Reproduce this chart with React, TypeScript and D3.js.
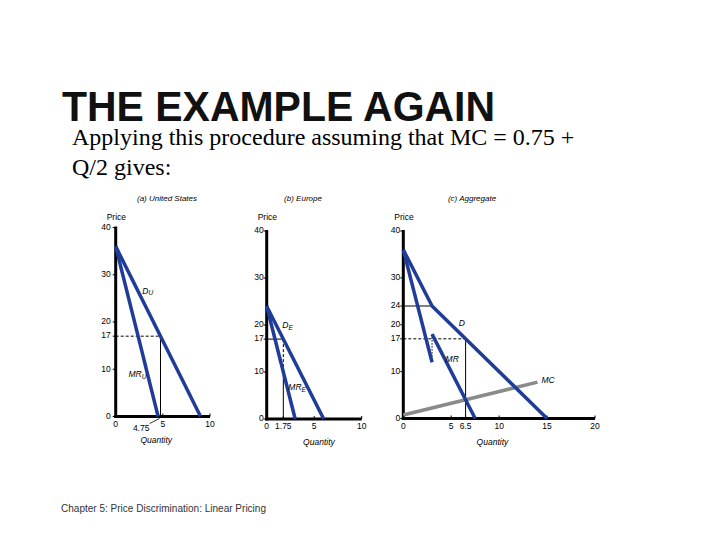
import React from "react";
import * as d3 from "d3";

type Pt = { q: number; p: number };

// ---- data ----
const usDemand: Pt[] = [{ q: 0, p: 36 }, { q: 9, p: 0 }];
const usMR: Pt[] = [{ q: 0, p: 36 }, { q: 4.5, p: 0 }];
const euDemand: Pt[] = [{ q: 0, p: 24 }, { q: 6, p: 0 }];
const euMR: Pt[] = [{ q: 0, p: 24 }, { q: 3, p: 0 }];
const aggDemand: Pt[] = [{ q: 0, p: 36 }, { q: 3, p: 24 }, { q: 15, p: 0 }];
const aggMR1: Pt[] = [{ q: 0, p: 36 }, { q: 3, p: 12 }];
const aggMR2: Pt[] = [{ q: 3, p: 18 }, { q: 7.5, p: 0 }];
const mcLine: Pt[] = [{ q: 0, p: 0.75 }, { q: 14, p: 7.75 }];

const price = 17;
const qUS = 4.75;
const qEU = 1.75;
const mrEUatQ = 10;
const qAgg = 6.5;
const kinkQ = 3;
const kinkP = 24;
const mrGapLow = 12;
const mrGapHigh = 18;

const yTicksUSEU = [0, 10, 17, 20, 30, 40];
const yTicksAgg = [0, 10, 17, 20, 24, 30, 40];
const xTicksUS = [0, 5, 10];
const xLabelsUS = ["0", "5", "10"];
const xTicksEU = [0, 1.75, 5, 10];
const xLabelsEU = ["0", "1.75", "5", "10"];
const xTicksAgg = [0, 5, 6.5, 10, 15, 20];
const xLabelsAgg = ["0", "5", "6.5", "10", "15", "20"];

const BLUE = "#1f3c98";
const GRAY = "#8a8a8a";
const SANS = "'Liberation Sans', Arial, sans-serif";
const SERIF = "'Liberation Serif', 'Times New Roman', serif";

type Scales = {
  x: d3.ScaleLinear<number, number>;
  y: d3.ScaleLinear<number, number>;
};

const sA: Scales = {
  x: d3.scaleLinear().domain([0, 10]).range([115.7, 210]),
  y: d3.scaleLinear().domain([0, 40]).range([416.5, 227.5]),
};
const sB: Scales = {
  x: d3.scaleLinear().domain([0, 10]).range([266.7, 361.7]),
  y: d3.scaleLinear().domain([0, 40]).range([419, 231]),
};
const sC: Scales = {
  x: d3.scaleLinear().domain([0, 20]).range([403.3, 595]),
  y: d3.scaleLinear().domain([0, 40]).range([418.5, 231]),
};

function lineGen(s: Scales) {
  return d3
    .line<Pt>()
    .x((d) => s.x(d.q))
    .y((d) => s.y(d.p));
}

function Axes({
  s,
  yTicks,
  xTicks,
  xLabels,
  yLabelOffset,
  xMax,
  quantityQ,
}: {
  s: Scales;
  yTicks: number[];
  xTicks: number[];
  xLabels: string[];
  yLabelOffset: number;
  xMax: number;
  quantityQ: number;
}) {
  const x0 = s.x(0);
  const y0 = s.y(0);
  return (
    <g fontFamily={SANS} fontSize={8.5} fill="#000">
      <line x1={x0} x2={x0} y1={s.y(40) - 1} y2={y0 + 1.5} stroke="#000" strokeWidth={3} />
      <line x1={x0 - 1.5} x2={s.x(xMax)} y1={y0} y2={y0} stroke="#000" strokeWidth={3} />
      {yTicks.map((t) => (
        <g key={"y" + t}>
          <line x1={x0 - 3} x2={x0} y1={s.y(t)} y2={s.y(t)} stroke="#000" strokeWidth={1} />
          <text x={x0 - yLabelOffset} y={s.y(t)} textAnchor="end" dominantBaseline="middle">
            {t}
          </text>
        </g>
      ))}
      {xTicks.map((t, i) => (
        <g key={"x" + t}>
          <line x1={s.x(t)} x2={s.x(t)} y1={y0 - 3} y2={y0} stroke="#000" strokeWidth={1} />
          <text x={s.x(t)} y={y0 + 10} textAnchor="middle">
            {xLabels[i]}
          </text>
        </g>
      ))}
      <text x={x0 - 9} y={220} textAnchor="start">
        Price
      </text>
      <text x={s.x(quantityQ)} y={y0 + 26} textAnchor="middle" fontStyle="italic">
        Quantity
      </text>
    </g>
  );
}

function Label({
  s,
  q,
  p,
  main,
  sub,
}: {
  s: Scales;
  q: number;
  p: number;
  main: string;
  sub?: string;
}) {
  return (
    <text
      x={s.x(q)}
      y={s.y(p)}
      fontFamily={SANS}
      fontSize={8.5}
      fontStyle="italic"
      textAnchor="middle"
      dominantBaseline="middle"
    >
      {main}
      {sub ? (
        <tspan fontSize={6.5} dy={2}>
          {sub}
        </tspan>
      ) : null}
    </text>
  );
}

export default function App() {
  const lA = lineGen(sA);
  const lB = lineGen(sB);
  const lC = lineGen(sC);
  const W = 3.5;
  return (
    <svg
      width={720}
      height={540}
      style={{ position: "absolute", left: 0, top: 0, background: "#fff" }}
    >
      <rect x={0} y={0} width={720} height={540} fill="#fff" />
      <text
        x={62}
        y={121}
        fontFamily={SANS}
        fontWeight="bold"
        fontSize={43}
        textLength={433}
        lengthAdjust="spacingAndGlyphs"
        fill="#111"
      >
        THE EXAMPLE AGAIN
      </text>
      <text x={72} y={145} fontFamily={SERIF} fontSize={24} fill="#000">
        Applying this procedure assuming that MC = 0.75 +
      </text>
      <text x={72} y={175} fontFamily={SERIF} fontSize={24} fill="#000">
        Q/2 gives:
      </text>

      {/* panel titles */}
      <g fontFamily={SANS} fontSize={8} fontStyle="italic" textAnchor="middle">
        <text x={167} y={201}>(a) United States</text>
        <text x={303} y={201}>(b) Europe</text>
        <text x={472} y={201}>(c) Aggregate</text>
      </g>

      {/* Panel A */}
      <Axes s={sA} yTicks={yTicksUSEU} xTicks={xTicksUS} xLabels={xLabelsUS} yLabelOffset={5} xMax={10} quantityQ={4.3} />
      <line x1={sA.x(0)} x2={sA.x(qUS)} y1={sA.y(price)} y2={sA.y(price)} stroke="#000" strokeWidth={1} strokeDasharray="3,2" />
      <line x1={sA.x(qUS)} x2={sA.x(qUS)} y1={sA.y(price)} y2={sA.y(0)} stroke="#000" strokeWidth={1} />
      <path d={lA(usDemand) || ""} stroke={BLUE} strokeWidth={W} fill="none" />
      <path d={lA(usMR) || ""} stroke={BLUE} strokeWidth={W} fill="none" />
      <line x1={sA.x(3.6)} y1={sA.y(0) + 7} x2={sA.x(qUS) - 1} y2={sA.y(0) + 2} stroke="#000" strokeWidth={0.8} />
      <text x={sA.x(2.7)} y={sA.y(0) + 14} fontFamily={SANS} fontSize={8.5} textAnchor="middle">
        {qUS}
      </text>
      <Label s={sA} q={3.4} p={26.5} main="D" sub="U" />
      <Label s={sA} q={2.3} p={8.8} main="MR" sub="U" />

      {/* Panel B */}
      <Axes s={sB} yTicks={yTicksUSEU} xTicks={xTicksEU} xLabels={xLabelsEU} yLabelOffset={3} xMax={10} quantityQ={5.5} />
      <line x1={sB.x(0)} x2={sB.x(qEU)} y1={sB.y(price)} y2={sB.y(price)} stroke="#000" strokeWidth={1} />
      <line x1={sB.x(qEU)} x2={sB.x(qEU)} y1={sB.y(price)} y2={sB.y(mrEUatQ)} stroke="#000" strokeWidth={1} strokeDasharray="3,2" />
      <line x1={sB.x(qEU)} x2={sB.x(qEU)} y1={sB.y(mrEUatQ)} y2={sB.y(0)} stroke="#000" strokeWidth={1} />
      <path d={lB(euDemand) || ""} stroke={BLUE} strokeWidth={W} fill="none" />
      <path d={lB(euMR) || ""} stroke={BLUE} strokeWidth={W} fill="none" />
      <Label s={sB} q={2.2} p={19.8} main="D" sub="E" />
      <Label s={sB} q={3.2} p={6.6} main="MR" sub="E" />

      {/* Panel C */}
      <Axes s={sC} yTicks={yTicksAgg} xTicks={xTicksAgg} xLabels={xLabelsAgg} yLabelOffset={3} xMax={20} quantityQ={9.3} />
      <line x1={sC.x(0)} x2={sC.x(kinkQ)} y1={sC.y(kinkP)} y2={sC.y(kinkP)} stroke="#000" strokeWidth={1} />
      <line x1={sC.x(0)} x2={sC.x(qAgg)} y1={sC.y(price)} y2={sC.y(price)} stroke="#000" strokeWidth={1} strokeDasharray="3,2" />
      <line x1={sC.x(qAgg)} x2={sC.x(qAgg)} y1={sC.y(price)} y2={sC.y(0)} stroke="#000" strokeWidth={1} />
      <line x1={sC.x(kinkQ)} x2={sC.x(kinkQ)} y1={sC.y(mrGapHigh)} y2={sC.y(mrGapLow)} stroke="#000" strokeWidth={1} strokeDasharray="1.5,1.5" />
      <path d={lC(mcLine) || ""} stroke={GRAY} strokeWidth={W} fill="none" />
      <path d={lC(aggDemand) || ""} stroke={BLUE} strokeWidth={W} fill="none" strokeLinejoin="round" />
      <path d={lC(aggMR1) || ""} stroke={BLUE} strokeWidth={W} fill="none" />
      <path d={lC(aggMR2) || ""} stroke={BLUE} strokeWidth={W} fill="none" />
      <Label s={sC} q={6.1} p={20.2} main="D" />
      <Label s={sC} q={5.1} p={12.6} main="MR" />
      <Label s={sC} q={15.1} p={8} main="MC" />

      <text
        x={61}
        y={512}
        fontFamily={SANS}
        fontSize={10}
        fill="#333"
        textLength={205}
        lengthAdjust="spacingAndGlyphs"
      >
        Chapter 5: Price Discrimination: Linear Pricing
      </text>
    </svg>
  );
}
